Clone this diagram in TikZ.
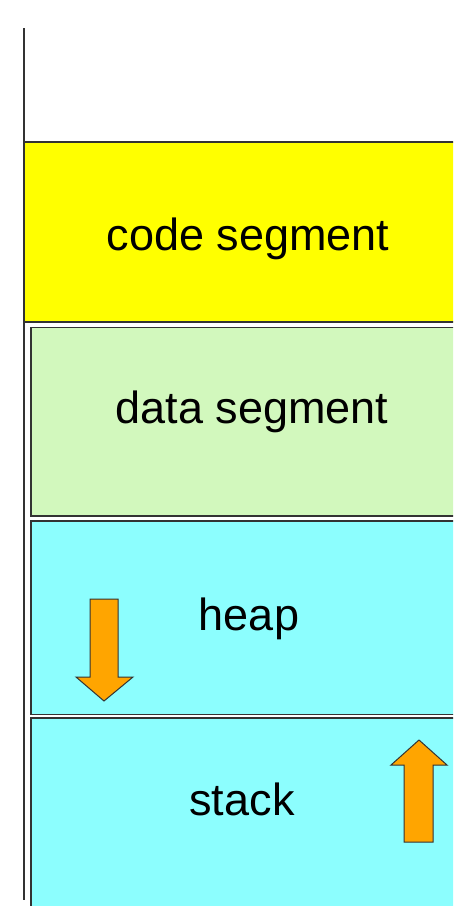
\documentclass[tikz,border=0pt]{standalone}
\usepackage{fontspec}
\setmainfont{Liberation Sans}
\definecolor{segyellow}{HTML}{FFFF00}
\definecolor{seggreen}{HTML}{D2F8BD}
\definecolor{segcyan}{HTML}{8CFEFE}
\definecolor{arroworange}{HTML}{FFA500}
\definecolor{edgegray}{HTML}{333333}
\begin{document}
\begin{tikzpicture}[x=1pt,y=-1pt,
  segbox/.style={draw=edgegray,line width=1.5pt},
  seglabel/.style={font=\fontsize{45}{54}\selectfont,anchor=base,inner sep=0pt},
  growarrow/.style={fill=arroworange,draw=black!80,line width=1pt,line join=miter}]
\useasboundingbox (0,0) rectangle (453,906);
\clip (0,0) rectangle (453,906);
% code segment
\fill[segyellow] (23,142) rectangle (460,322);
\draw[edgegray,line width=1.5pt] (24,142) -- (460,142);
\draw[edgegray,line width=1.5pt] (24,322) -- (460,322);
% data segment
\path[segbox,fill=seggreen] (31,327.5) rectangle (460,516);
% heap
\path[segbox,fill=segcyan] (31,521) rectangle (460,714.5);
% stack
\path[segbox,fill=segcyan] (31,718) rectangle (460,915);
% address axis
\draw[edgegray,line width=1.5pt] (24,28) -- (24,900);
% labels
\node[seglabel] (code) at (248,250) {code segment};
\node[seglabel] (data) at (252,423) {data segment};
\node[seglabel] (heap) at (249,630) {heap};
\node[seglabel] (stack) at (242,815) {stack};
% heap growth arrow (down)
\draw[growarrow] (90,599) -- (118,599) -- (118,677) -- (133,677) -- (104,701) -- (76,677) -- (90,677) -- cycle;
% stack growth arrow (up)
\draw[growarrow] (404,842) -- (433,842) -- (433,765) -- (447,765) -- (419,740) -- (391,765) -- (404,765) -- cycle;
\end{tikzpicture}
\end{document}
